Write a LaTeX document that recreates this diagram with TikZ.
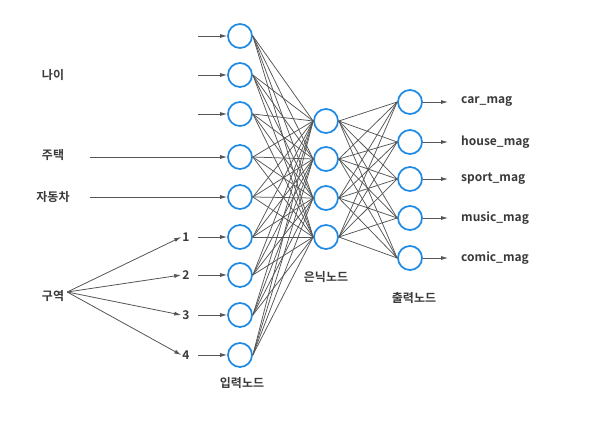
\documentclass[tikz,border=0pt]{standalone}
\usepackage{fontspec}
\setmainfont{Noto Sans CJK KR}[BoldFont={Noto Sans CJK KR Bold}]
\usetikzlibrary{arrows.meta}
\definecolor{nodeblue}{HTML}{1E88E5}
\definecolor{linegray}{HTML}{555555}
\definecolor{txtgray}{HTML}{3A3A3A}
\tikzset{
  neuron/.style={circle, draw=nodeblue, line width=1.7pt, minimum size=24pt, inner sep=0pt},
  conn/.style={draw=linegray, line width=0.75pt},
  arr/.style={draw=linegray, line width=0.8pt, -{Latex[length=7pt,width=4pt]}},
  lbl/.style={text=txtgray, font=\fontsize{12}{14}\selectfont\bfseries, inner sep=0pt},
}
\begin{document}
\begin{tikzpicture}[x=1pt,y=-1pt]
\useasboundingbox (0,0) rectangle (596,427);
% input nodes
\foreach \i/\y in {1/36,2/75,3/114,4/157,5/197,6/237,7/275,8/315,9/355}
  \node[neuron] (i\i) at (240,\y) {};
% hidden nodes
\foreach \i/\y in {1/121,2/159,3/198,4/237}
  \node[neuron] (h\i) at (326,\y) {};
% output nodes
\foreach \i/\y in {1/102,2/142,3/179,4/218,5/258}
  \node[neuron] (o\i) at (410,\y) {};
% connections
\foreach \i in {1,...,9}
  \foreach \j in {1,...,4}
    \draw[conn] (i\i.east) -- (h\j.west);
\foreach \j in {1,...,4}
  \foreach \k in {1,...,5}
    \draw[conn] (h\j.east) -- (o\k.west);
% input labels
\node[lbl] (age) at (53,75) {나이};
\node[lbl] (house) at (53,155) {주택};
\node[lbl] (car) at (53,197) {자동차};
\node[lbl] (area) at (53,296) {구역};
% input arrows
\foreach \i in {1,2,3} {
  \coordinate (s\i) at (198,0 |- i\i);
  \draw[arr] (s\i) -- (i\i.west);
}
\coordinate (s4) at (90,157);
\coordinate (s5) at (90,197);
\draw[arr] (s4) -- (i4.west);
\draw[arr] (s5) -- (i5.west);
% numbers
\foreach \n/\k in {1/6,2/7,3/8,4/9} {
  \node[lbl, anchor=center] (n\n) at (186,0 |- i\k) {\n};
  \coordinate (t\n) at (198,0 |- i\k);
  \draw[arr] (t\n) -- (i\k.west);
  \draw[arr] (area.east) ++(3,-4) -- ([xshift=-1pt]n\n.west);
}
% output arrows and labels
\foreach \k/\t in {1/car\_mag,2/house\_mag,3/sport\_mag,4/music\_mag,5/comic\_mag} {
  \coordinate (e\k) at (448,0 |- o\k);
  \draw[arr] (o\k.east) -- (e\k);
  \node[lbl, anchor=west] (l\k) at (461,0 |- o\k) {\t};
}
% layer labels
\node[lbl] (inl) at (242,383) {입력노드};
\node[lbl] (hidl) at (326,277) {은닉노드};
\node[lbl] (outl) at (414,298) {출력노드};
\end{tikzpicture}
\end{document}
